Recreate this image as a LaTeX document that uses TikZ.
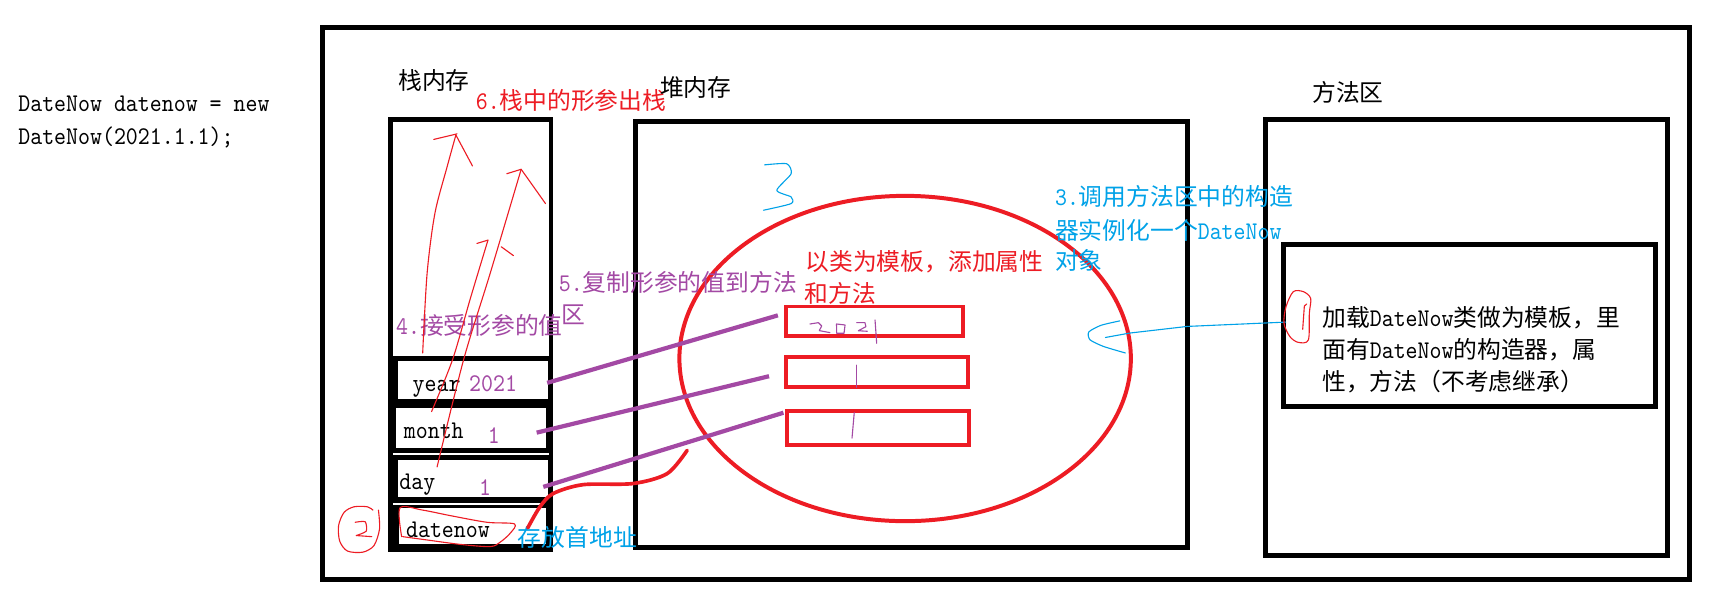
\documentclass[tikz,border=0pt]{standalone}
\usepackage{fontspec}
\setmainfont{Noto Sans CJK SC}
\newfontfamily\monofam[FakeStretch=0.895]{lmmono10-regular.otf}
\newcommand\mono{\monofam\fontsize{23}{26}\selectfont}
\usetikzlibrary{calc,shapes.geometric}
\definecolor{pred}{HTML}{ED1C24}
\definecolor{ppur}{HTML}{A349A4}
\definecolor{pblue}{HTML}{00A2E8}
\newcommand\fsz{\fontsize{21.5}{26}\selectfont}
\begin{document}
\begin{tikzpicture}[x=1pt,y=-1pt,
  lbl/.style={anchor=west,inner sep=0pt,outer sep=0pt,text height=18.9pt,text depth=2.6pt,font=\fsz},
  blk/.style={draw=black,line width=4.3pt,inner sep=0pt,outer sep=0pt},
  cellw/.style={fill=white,inner sep=0pt,outer sep=0pt},
  redbox/.style={draw=pred,line width=3.6pt,inner sep=0pt,outer sep=0pt},
  pline/.style={draw=ppur,line width=3.8pt},
  thinred/.style={draw=pred,line width=1pt,line cap=round,line join=round},
  thinblue/.style={draw=pblue,line width=1pt,line cap=round,line join=round},
  thinpur/.style={draw=ppur,line width=1pt,line cap=round,line join=round},
]
\useasboundingbox[fill=white] (0,0) rectangle (1568,556);

% frames
\node[blk,minimum width=1235.5pt,minimum height=498.7pt] (outer) at (909.25,274.25) {};
\node[blk,minimum width=145pt,minimum height=389pt] (stack) at (425.5,302.5) {};
\node[blk,minimum width=499pt,minimum height=385pt] (heap) at (823.5,302.5) {};
\node[blk,minimum width=363.5pt,minimum height=394.6pt] (method) at (1325.25,305) {};
\node[blk,minimum width=336pt,minimum height=146.2pt] (minner) at (1328,294.1) {};

% stack cells
\fill[black] (350.9,321.7) rectangle (500.1,499.1);
\node[cellw,minimum width=135pt,minimum height=35pt] (year) at (427.5,343.5) {};
\node[cellw,minimum width=135pt,minimum height=36pt] (month) at (425.5,387) {};
\node[cellw,minimum width=135pt,minimum height=33pt] (day) at (427.5,432.5) {};
\node[cellw,minimum width=132pt,minimum height=33pt] (datenow) at (427,475.5) {};
\fill[white] (355,409.5) rectangle (496,411);
\fill[white] (355,454.6) rectangle (491,456.4);

% object in heap
\node[draw=pred,line width=3.6pt,ellipse,inner sep=0pt,outer sep=0pt,minimum width=408pt,minimum height=294pt] (obj) at (818,324) {};
\node[redbox,minimum width=159.5pt,minimum height=26.5pt] (r1) at (790.25,290.25) {};
\node[redbox,minimum width=164.5pt,minimum height=26.5pt] (r2) at (792.25,336.25) {};
\node[redbox,minimum width=164pt,minimum height=31pt] (r3) at (793.5,386.5) {};

% purple copy lines
\draw[pline] ($(year.east)+(-0.5,2.5)$) -- ($(r1.west)+(-7.5,-5.25)$);
\draw[pline] ($(month.east)+(-8,4)$) -- ($(r2.west)+(-15,3.75)$);
\draw[pline] ($(day.east)+(-4,7.5)$) -- ($(r3.west)+(-3.5,-13.5)$);

% texts
\node[lbl] (code1) at (16.6,93) {\mono DateNow datenow = new};
\node[lbl] (code2) at (16.6,122) {\mono DateNow(2021.1.1);};
\node[lbl] (lstack) at (360,73) {栈内存};
\node[lbl,text=pred] (step6) at (430,90.5) {{\mono 6.}栈中的形参出栈};
\node[lbl] (lheap) at (596.5,79) {堆内存};
\node[lbl] (lmeth) at (1186,84) {方法区};
\node[lbl,text=pblue] (step3a) at (953.5,178) {{\mono 3.}调用方法区中的构造};
\node[lbl,text=pblue] (step3b) at (953.5,208) {器实例化一个{\mono DateNow}};
\node[lbl,text=pblue] (step3c) at (953.5,235) {对象};
\node[lbl,text=pred] (tpl1) at (728,236) {以类为模板，添加属性};
\node[lbl,text=pred] (tpl2) at (727.5,265) {和方法};
\node[lbl,text=ppur] (step5a) at (505,255) {{\mono 5.}复制形参的值到方法};
\node[lbl,text=ppur] (step5b) at (507,284) {区};
\node[lbl,text=ppur] (step4) at (358,294) {{\mono 4.}接受形参的值};
\node[lbl] (tyear) at (373,346) {\mono year};
\node[lbl,text=ppur] (vyear) at (424,346) {\mono 2021};
\node[lbl] (tmonth) at (365,388) {\mono month};
\node[lbl,text=ppur] (vmonth) at (441,393) {\mono 1};
\node[lbl] (tday) at (361,434) {\mono day};
\node[lbl,text=ppur] (vday) at (433,440) {\mono 1};
\node[lbl] (tdate) at (367,478) {\mono datenow};
\node[lbl,text=pblue] (addr) at (468,485.5) {存放首地址};
\node[lbl] (m1) at (1195,286.5) {加载{\mono DateNow}类做为模板，里};
\node[lbl] (m2) at (1195,315.5) {面有{\mono DateNow}的构造器，属};
\node[lbl] (m3) at (1195,344.5) {性，方法（不考虑继承）};

% hand-drawn red arrows in stack
\draw[thinred] plot[smooth] coordinates {(382,319) (386,247) (393,193) (404,151) (412,122)};
\draw[thinred] (392,126) -- (413,121);
\draw[thinred] (412,122) -- (427,150);
\draw[thinred] plot[smooth] coordinates {(390,372) (409,325) (425,270) (441,217)};
\draw[thinred] (431,220) -- (441,217);
\draw[thinred] (453,223) -- (464,231);
\draw[thinred] plot[smooth] coordinates {(395,422) (419,325) (443,247) (471,153)};
\draw[thinred] (458,157) -- (471,153);
\draw[thinred] (471,153) -- (476,160) -- (493,184);

% red loop around datenow
\draw[thinred] plot[smooth] coordinates {(363,485) (361.5,459) (382,461) (407,466) (440,472) (465,473.5) (461,482) (452,490) (443,494) (416,492) (386,488) (364,485)};
% circled 2
\draw[thinred] plot[smooth] coordinates {(342,461) (343,478) (338,493) (328,499) (314,498) (307,489) (306,475) (311,463) (320,458) (332,458) (337,461)};
\draw[thinred] plot[smooth, tension=0.4] coordinates {(321,472) (330,471.5) (331,480) (322,484)};
\draw[thinred] (322,484) -- (336,485);

% red S curve from datenow
\draw[draw=pred,line width=3.3pt,line cap=round] plot[smooth] coordinates {(477,477) (488,458) (500,446) (527,438) (572,437) (603,428) (621,407)};

% blue 3
\draw[thinblue] plot[smooth,tension=0.4] coordinates {(691,149) (711,148) (715,157) (702,172) (715,178) (715,184) (690,190)};

% blue arrow from method area to object
\draw[thinblue] ($(minner.west)+(2,-3)$) -- (1073,295) -- (1021,301) -- (999,305);
\draw[thinblue] plot[smooth,tension=0.4] coordinates {(1012,290) (995,294) (984,300) (985,307) (997,313) (1017,319)};

% red circled 1
\draw[thinred] plot[smooth cycle] coordinates {(1168.8,263.6) (1177.9,263.6) (1184.5,269.6) (1183.3,283.2) (1182.4,307.3) (1173.3,309.4) (1165.8,304.3) (1160.4,292.2) (1162.2,277.2)};
\draw[thinred] (1180.9,274.7) -- (1178.8,276.6) -- (1177.3,297.6);

% purple handwritten values
\draw[thinpur] (732,292.8) -- (739.6,291.6) -- (742.6,294.6) -- (740.4,298.8) -- (750,300.6);
\draw[thinpur] (756,292.8) -- (763.7,293.7) -- (762.8,301.2) -- (756.1,301.2) -- cycle;
\draw[thinpur] (774.2,291.6) -- (781.7,291.6) -- (782.6,295.2) -- (775.7,298.9) -- (783.8,299.4);
\draw[thinpur] (790.8,289.2) -- (792.3,310.3);
\draw[thinpur] (774,330) -- (774,350);
\draw[thinpur] (772,373) -- (770,396);
\end{tikzpicture}
\end{document}
